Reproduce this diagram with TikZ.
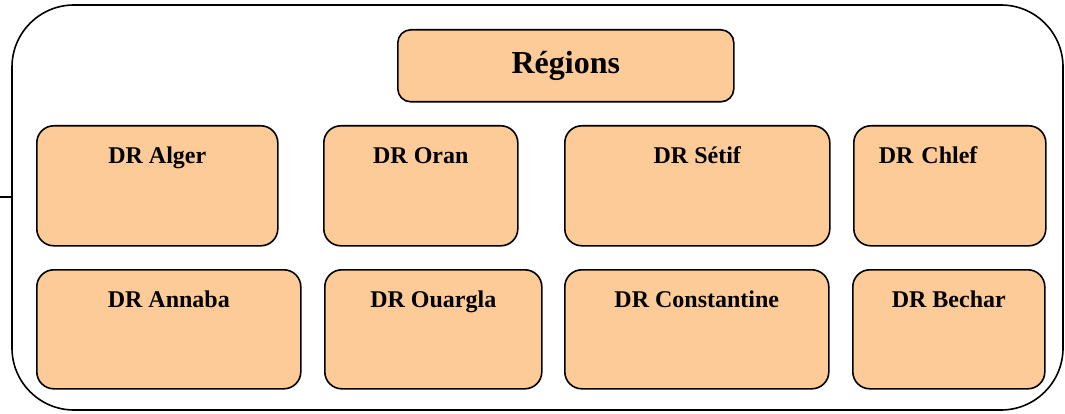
\documentclass[tikz,border=0pt]{standalone}
\usepackage{fontspec}
\setmainfont{Liberation Serif}
\definecolor{peach}{RGB}{252,203,152}
\tikzset{
  frame/.style={draw, line width=1.6pt, rounded corners=62pt, inner sep=0pt,
    minimum width=1051pt, minimum height=405pt},
  titlebox/.style={draw, line width=1.6pt, fill=peach, rounded corners=13pt,
    inner sep=0pt, anchor=north west, minimum width=336pt,
    text height=44pt, text depth=28pt,
    font=\fontsize{32}{36}\selectfont\bfseries},
  region/.style={draw, line width=1.6pt, fill=peach, rounded corners=17pt,
    inner sep=0pt, anchor=north west, text height=38pt, text depth=82pt,
    font=\fontsize{24}{28}\selectfont\bfseries},
  regionlow/.style={region, text depth=81pt}
}
\begin{document}
\begin{tikzpicture}[x=1pt,y=-1pt]
  \useasboundingbox (0,0) rectangle (1065,414);
  % outer frame with its short stub on the left
  \node[frame] (frame) at (537.5,207.5) {};
  \coordinate (stub) at (0,197);
  \draw[line width=1.6pt] (stub) -- (stub -| frame.west);
  % heading
  \node[titlebox] (regions) at (397,29) {Régions};
  % first row of directorates
  \node[region, minimum width=241pt] (alger) at (36,125) {DR Alger};
  \node[region, minimum width=194pt] (oran)  at (323,125) {DR Oran};
  \node[region, minimum width=265pt] (setif) at (564,125) {DR Sétif};
  \node[region, text width=142pt, align=left, inner xsep=25pt] (chlef) at (853,125) {DR Chlef};
  % second row of directorates
  \node[regionlow, minimum width=264pt] (annaba) at (36,269) {DR Annaba};
  \node[regionlow, minimum width=217pt] (ouargla) at (324,269) {DR Ouargla};
  \node[regionlow, minimum width=264pt] (constantine) at (564,269) {DR Constantine};
  \node[regionlow, minimum width=192pt] (bechar) at (852,269) {DR Bechar};
\end{tikzpicture}
\end{document}
